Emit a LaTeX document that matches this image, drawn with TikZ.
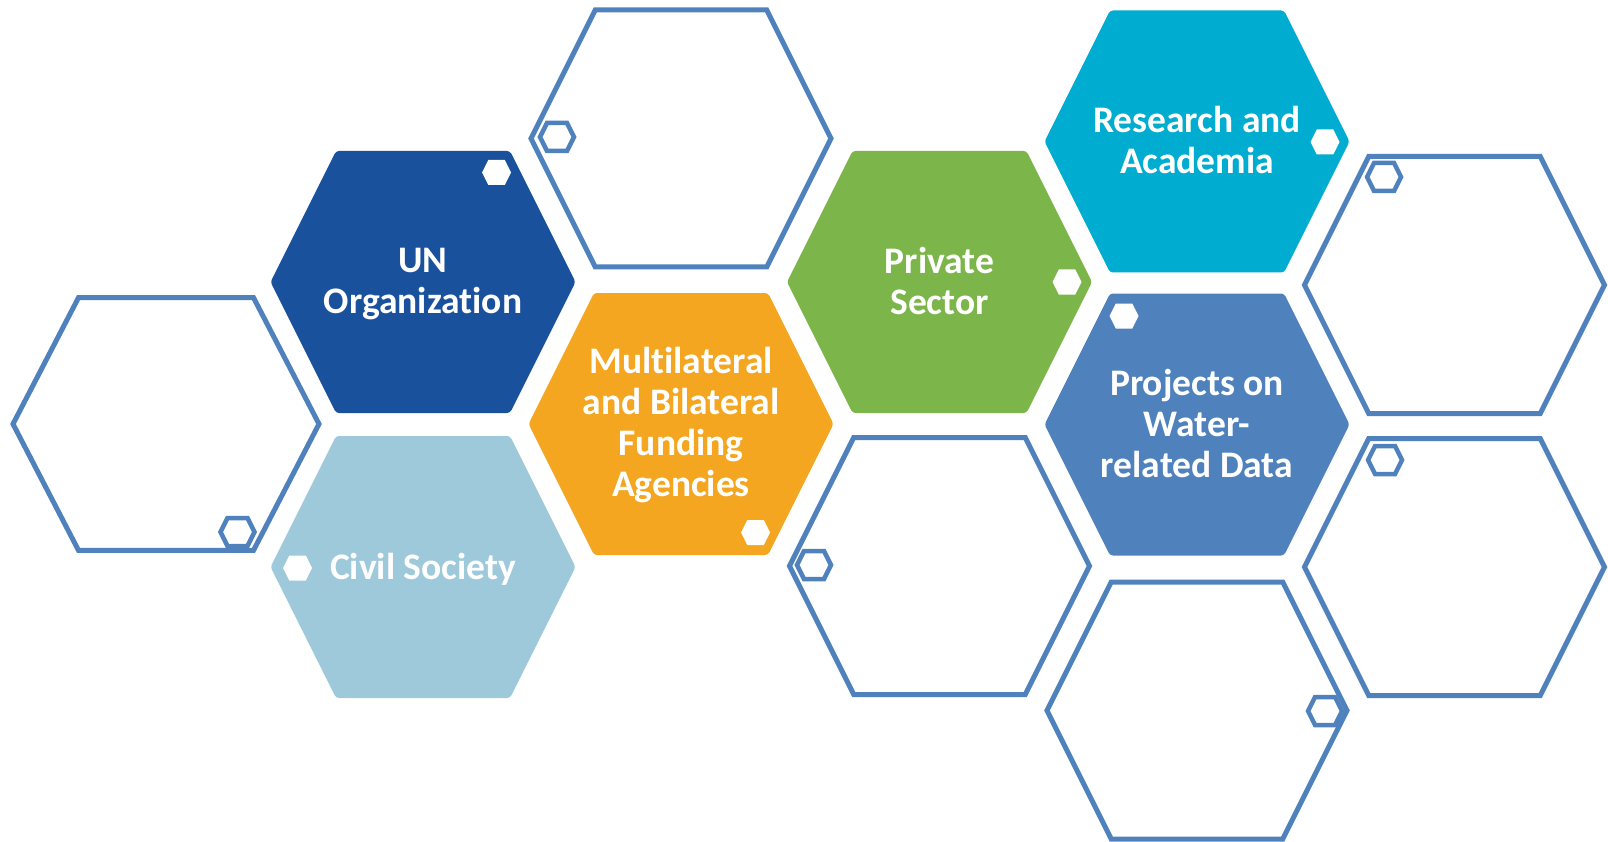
\documentclass[tikz,border=0pt]{standalone}
\usepackage{fontspec}
\setmainfont{Carlito}[Ligatures=NoCommon]
\definecolor{unblue}{HTML}{1A519D}
\definecolor{civilblue}{HTML}{9EC9DB}
\definecolor{fundorange}{HTML}{F4A620}
\definecolor{privgreen}{HTML}{7CB64A}
\definecolor{rescyan}{HTML}{00ACCF}
\definecolor{projblue}{HTML}{4F81BD}
\begin{document}
\begin{tikzpicture}[x=1pt,y=-1pt,
  every node/.style={font=\fontsize{37.5}{41}\selectfont\bfseries,text=white,align=center},
  hexbig/.pic={\path[pic actions,rounded corners=3pt] (-152.5,0) -- (-87,-131) -- (87,-131) -- (152.5,0) -- (87,131) -- (-87,131) -- cycle;},
  hexline/.pic={\path[pic actions] (-150,0) -- (-85.75,-128.5) -- (85.75,-128.5) -- (150,0) -- (85.75,128.5) -- (-85.75,128.5) -- cycle;},
  hexdot/.pic={\path[pic actions] (-14.5,0) -- (-8.25,-12.5) -- (8.25,-12.5) -- (14.5,0) -- (8.25,12.5) -- (-8.25,12.5) -- cycle;},
  hexring/.pic={\path[pic actions] (-17,0) -- (-10,-14) -- (10,-14) -- (17,0) -- (10,14) -- (-10,14) -- cycle;},
  outline/.style={draw=projblue,line width=5pt},
  ring/.style={draw=projblue,line width=4.5pt},
  dot/.style={fill=white}]
\useasboundingbox (0,0) rectangle (1608,842);
% empty outlined cells
\pic[outline] (cellA) at (681,138.5) {hexline};
\pic[outline,xscale=1.02,yscale=0.984] (cellB) at (166,424) {hexline};
\pic[outline] (cellC) at (1454.5,285) {hexline};
\pic[outline] (cellD) at (939.5,566) {hexline};
\pic[outline] (cellE) at (1454.5,567) {hexline};
\pic[outline] (cellF) at (1197,710.5) {hexline};
% small rings on the empty cells
\pic[ring] (ringA) at (557,137) {hexring};
\pic[ring] (ringB) at (237.5,532) {hexring};
\pic[ring] (ringC) at (1384,177) {hexring};
\pic[ring] (ringD) at (814,565) {hexring};
\pic[ring] (ringE) at (1385,460) {hexring};
\pic[ring] (ringF) at (1325,711) {hexring};
% coloured cells
\pic[fill=unblue] (cellUN) at (423,282) {hexbig};
\pic[fill=civilblue] (cellCivil) at (423,567) {hexbig};
\pic[fill=fundorange] (cellFund) at (681,424) {hexbig};
\pic[fill=privgreen] (cellPriv) at (939.5,282) {hexbig};
\pic[fill=rescyan] (cellRes) at (1197,141.5) {hexbig};
\pic[fill=projblue] (cellProj) at (1197,424.5) {hexbig};
% white dots
\pic[dot] (dotUN) at (496.5,172.5) {hexdot};
\pic[dot] (dotCivil) at (297.5,568) {hexdot};
\pic[dot] (dotFund) at (755.5,532.5) {hexdot};
\pic[dot] (dotPriv) at (1067,282) {hexdot};
\pic[dot] (dotRes) at (1325,142) {hexdot};
\pic[dot] (dotProj) at (1124,316) {hexdot};
% labels
\node (un) at (423,284) {UN\\Organization};
\node (civil) at (423,569) {Civil Society};
\node (fund) at (681,425) {Multilateral\\and Bilateral\\Funding\\Agencies};
\node (priv) at (939.5,281) {Private\\Sector};
\node (res) at (1197,140) {Research and\\Academia};
\node (proj) at (1197,423) {Projects on\\Water-\\related Data};
\end{tikzpicture}
\end{document}
